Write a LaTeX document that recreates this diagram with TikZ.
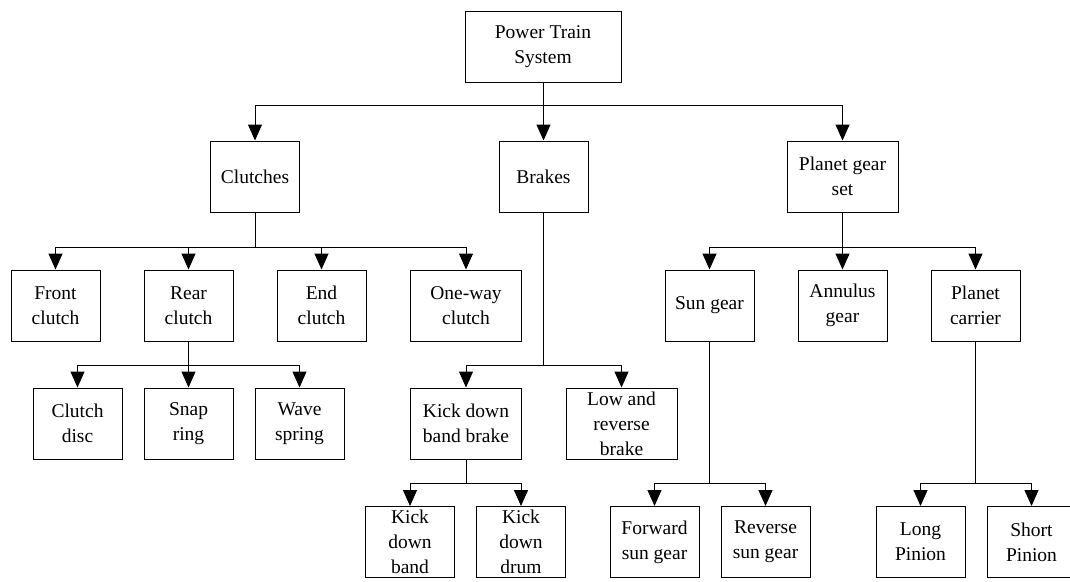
\documentclass[tikz,border=0pt]{standalone}
\usepackage{fontspec}
\setmainfont{Liberation Serif}
\usetikzlibrary{arrows.meta}

\begin{document}
\begin{tikzpicture}[x=1pt, y=-1pt, line width=1pt,
  box/.style={draw, minimum width=89pt, minimum height=71pt, inner sep=1pt,
    align=center, font=\fontsize{19.5}{25}\selectfont},
  wide/.style={box, minimum width=111pt},
  arr/.style={-{Triangle[length=16pt, width=14pt]}}]
  \useasboundingbox (0,0) rectangle (1070,581);
  \clip (0,0) rectangle (1070,581);

  \node[box, minimum width=156pt] (pts) at (543,46.5) {Power Train\\System};

  \node[box] (clu) at (255,176.5) {Clutches};
  \node[box] (brk) at (543.5,176.5) {Brakes};
  \node[wide] (pgs) at (842.5,176.5) {Planet gear\\set};

  \node[box] (front) at (55.5,305.5) {Front\\clutch};
  \node[box] (rear) at (188.5,305.5) {Rear\\clutch};
  \node[box] (endc) at (321.5,305.5) {End\\clutch};
  \node[wide] (oneway) at (466,305.5) {One-way\\clutch};
  \node[box] (sun) at (709.5,305.5) {Sun gear};
  \node[box] (ann) at (842.5,305.5) {Annulus\\gear};
  \node[box] (car) at (975.5,305.5) {Planet\\carrier};

  \node[box] (disc) at (77.5,423.5) {Clutch\\disc};
  \node[box] (snap) at (188.5,423.5) {Snap\\ring};
  \node[box] (wave) at (299.5,423.5) {Wave\\spring};
  \node[wide] (kdbb) at (466,423.5) {Kick down\\band brake};
  \node[wide] (lrb) at (621.5,423.5) {Low and\\reverse\\brake};

  \node[box] (kdb) at (410,542) {Kick\\down\\band};
  \node[box] (kdd) at (521,542) {Kick\\down\\drum};
  \node[box] (fsg) at (654.5,542) {Forward\\sun gear};
  \node[box] (rsg) at (765.5,542) {Reverse\\sun gear};
  \node[box] (lp) at (920.5,542) {Long\\Pinion};
  \node[box] (sp) at (1031.5,542) {Short\\Pinion};

  % top level
  \foreach \c in {clu, brk, pgs}
    \draw[arr] (pts.south) -- ++(0,23) -| (\c.north);

  % clutches and planet gear set
  \foreach \c in {front, rear, endc, oneway}
    \draw[arr] (clu.south) -- ++(0,35) -| (\c.north);
  \foreach \c in {sun, ann, car}
    \draw[arr] (pgs.south) -- ++(0,35) -| (\c.north);

  % brakes and rear clutch
  \foreach \c in {disc, snap, wave}
    \draw[arr] (rear.south) -- ++(0,24) -| (\c.north);
  \foreach \c in {kdbb, lrb}
    \draw[arr] (brk.south) -- ++(0,153) -| (\c.north);

  % bottom row
  \foreach \c in {kdb, kdd}
    \draw[arr] (kdbb.south) -- ++(0,24) -| (\c.north);
  \foreach \c in {fsg, rsg}
    \draw[arr] (sun.south) -- ++(0,142) -| (\c.north);
  \foreach \c in {lp, sp}
    \draw[arr] (car.south) -- ++(0,142) -| (\c.north);
\end{tikzpicture}
\end{document}
